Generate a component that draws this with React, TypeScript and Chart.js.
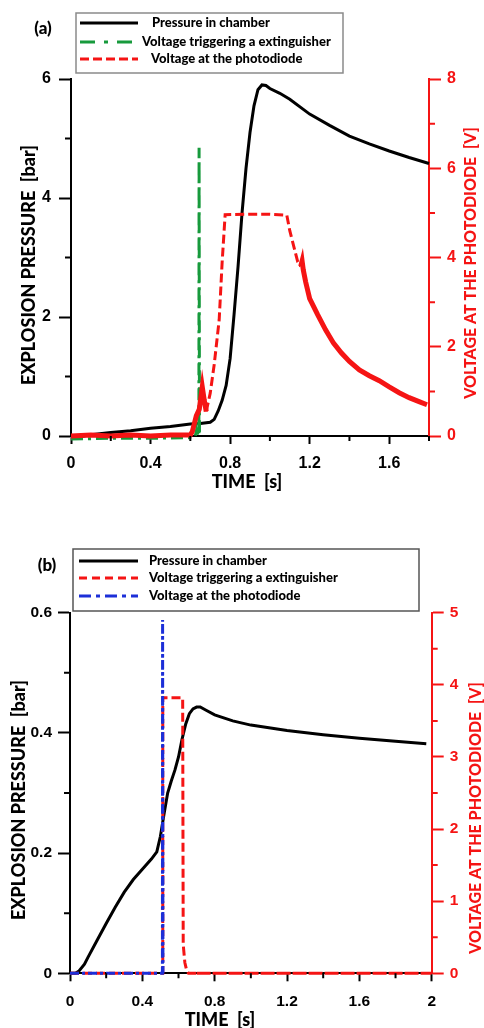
import React, { useEffect, useRef } from 'react';
import { Chart, registerables } from 'chart.js';

Chart.register(...registerables);

// ---------------- Panel (a) data ----------------
const aPressureTime = [0, 0.05, 0.1, 0.2, 0.3, 0.4, 0.5, 0.6, 0.65, 0.7, 0.72, 0.74, 0.76, 0.78, 0.8, 0.82, 0.84, 0.86, 0.88, 0.9, 0.92, 0.94, 0.96, 0.98, 1.0, 1.05, 1.1, 1.2, 1.3, 1.4, 1.5, 1.6, 1.7, 1.8];
const aPressure = [-0.02, -0.01, 0.02, 0.06, 0.09, 0.13, 0.16, 0.2, 0.21, 0.23, 0.28, 0.42, 0.6, 0.85, 1.3, 2.05, 2.85, 3.75, 4.5, 5.1, 5.55, 5.82, 5.9, 5.89, 5.84, 5.76, 5.66, 5.41, 5.22, 5.04, 4.91, 4.79, 4.68, 4.58];

const aTriggerTime = [0, 0.2, 0.4, 0.6, 0.625, 0.632, 0.638, 0.643, 0.644, 0.646];
const aTrigger = [-0.07, -0.05, -0.05, -0.04, 0.0, 0.15, 0.0, 0.0, 6.46, 0.0];

const aDiodeTime = [0, 0.1, 0.2, 0.3, 0.4, 0.5, 0.6, 0.61, 0.63, 0.645, 0.66, 0.67, 0.68, 0.7, 0.72, 0.745, 0.76, 0.775, 0.9, 1.0, 1.085, 1.1, 1.12, 1.14, 1.155, 1.162, 1.168, 1.18, 1.2, 1.24, 1.28, 1.32, 1.36, 1.4, 1.45, 1.5, 1.55, 1.6, 1.65, 1.7, 1.75, 1.79];
const aDiode = [0.0, 0.02, 0.0, 0.02, 0.0, 0.02, 0.02, 0.1, 0.45, 0.6, 1.1, 0.8, 0.55, 0.96, 1.6, 2.6, 3.9, 4.96, 4.97, 4.97, 4.95, 4.6, 4.25, 3.9, 3.8, 3.92, 3.72, 3.45, 3.08, 2.72, 2.38, 2.08, 1.86, 1.67, 1.48, 1.35, 1.24, 1.1, 0.97, 0.86, 0.77, 0.7];

const aXTicks = [0, 0.4, 0.8, 1.2, 1.6];
const aXMinor = [0.2, 0.6, 1.0, 1.4, 1.8];
const aYTicks = [0, 2, 4, 6];
const aYMinor = [1, 3, 5];
const aY2Ticks = [0, 2, 4, 6, 8];
const aY2Minor = [1, 3, 5, 7];

const aLegendLabels = ['Pressure in chamber', 'Voltage triggering a extinguisher', 'Voltage at the photodiode'];

// ---------------- Panel (b) data ----------------
const bPressureTime = [0, 0.03, 0.05, 0.08, 0.1, 0.15, 0.2, 0.25, 0.3, 0.35, 0.4, 0.45, 0.48, 0.5, 0.52, 0.54, 0.56, 0.58, 0.6, 0.62, 0.64, 0.66, 0.68, 0.7, 0.72, 0.75, 0.8, 0.9, 1.0, 1.2, 1.4, 1.6, 1.8, 1.97];
const bPressure = [0, 0, 0.004, 0.015, 0.027, 0.055, 0.083, 0.11, 0.135, 0.156, 0.173, 0.19, 0.202, 0.228, 0.265, 0.3, 0.32, 0.338, 0.36, 0.39, 0.415, 0.432, 0.44, 0.443, 0.443, 0.438, 0.43, 0.42, 0.413, 0.404, 0.397, 0.391, 0.386, 0.382];

const bTriggerTime = [0, 0.511, 0.513, 0.623, 0.626, 0.635, 0.645, 0.655, 0.7, 1.0, 1.5, 2.0];
const bTrigger = [0, 0, 3.82, 3.82, 0.4, 0.15, 0.04, 0, 0, 0, 0, 0];

const bDiodeTime = [0, 0.511, 0.512, 0.514];
const bDiode = [0, 0, 4.9, 0];

const bXTicks = [0, 0.4, 0.8, 1.2, 1.6, 2];
const bXMinor = [0.2, 0.6, 1.0, 1.4, 1.8];
const bYTicks = [0, 0.2, 0.4, 0.6];
const bYMinor = [0.1, 0.3, 0.5];
const bY2Ticks = [0, 1, 2, 3, 4, 5];
const bY2Minor = [0.5, 1.5, 2.5, 3.5, 4.5];

const bLegendLabels = ['Pressure in chamber', 'Voltage triggering a extinguisher', 'Voltage at the photodiode'];

// ---------------- styling ----------------
const RED = '#f51414';
const GREEN = '#179a3c';
const BLUE = '#1c2fd8';
const TICK_FONT = 'Liberation Sans';
const TITLE_FONT = 'Lato';
const TITLE_WEIGHT = '900';

const zip = (xs: number[], ys: number[]) => xs.map((x, i) => ({ x, y: ys[i] }));

const decorPlugin = {
  id: 'decor',
  afterDraw(chart: any, _args: any, opts: any) {
    const ctx = chart.ctx;
    const area = chart.chartArea;
    const sx = chart.scales.x;
    const sy = chart.scales.y;
    const sy2 = chart.scales.y2;
    ctx.save();
    // minor ticks
    ctx.lineWidth = 2;
    ctx.strokeStyle = '#000';
    ctx.beginPath();
    opts.xMinor.forEach((v: number) => {
      const px = sx.getPixelForValue(v);
      ctx.moveTo(px, area.bottom);
      ctx.lineTo(px, area.bottom + 5);
    });
    opts.yMinor.forEach((v: number) => {
      const py = sy.getPixelForValue(v);
      ctx.moveTo(area.left, py);
      ctx.lineTo(area.left - 6, py);
    });
    ctx.stroke();
    ctx.strokeStyle = RED;
    ctx.beginPath();
    opts.y2Minor.forEach((v: number) => {
      const py = sy2.getPixelForValue(v);
      ctx.moveTo(area.right, py);
      ctx.lineTo(area.right + 6, py);
    });
    ctx.stroke();

    // axis titles
    ctx.textAlign = 'center';
    ctx.textBaseline = 'middle';
    ctx.fillStyle = '#000';
    ctx.font = `${TITLE_WEIGHT} 18px ${TITLE_FONT}`;
    ctx.fillText('TIME  [s]', opts.xTitle[0], opts.xTitle[1]);
    ctx.save();
    ctx.translate(opts.yTitle[0], opts.yTitle[1]);
    ctx.rotate(-Math.PI / 2);
    ctx.fillText('EXPLOSION PRESSURE  [bar]', 0, 0);
    ctx.restore();
    ctx.save();
    ctx.fillStyle = RED;
    ctx.font = `${TITLE_WEIGHT} 16px ${TITLE_FONT}`;
    ctx.translate(opts.y2Title[0], opts.y2Title[1]);
    ctx.rotate(-Math.PI / 2);
    ctx.fillText('VOLTAGE AT THE PHOTODIODE  [V]', 0, 0);
    ctx.restore();

    // panel label
    ctx.fillStyle = '#000';
    ctx.font = `${TITLE_WEIGHT} 17px ${TITLE_FONT}`;
    ctx.fillText(opts.panel, opts.panelPos[0], opts.panelPos[1]);

    // legend
    const lg = opts.legend;
    ctx.fillStyle = '#fff';
    ctx.fillRect(lg.box[0], lg.box[1], lg.box[2], lg.box[3]);
    ctx.strokeStyle = lg.border;
    ctx.lineWidth = 1.5;
    ctx.strokeRect(lg.box[0], lg.box[1], lg.box[2], lg.box[3]);
    ctx.font = `${TITLE_WEIGHT} 13px ${TITLE_FONT}`;
    ctx.textAlign = 'left';
    lg.items.forEach((it: any, i: number) => {
      const y = lg.rows[i];
      ctx.strokeStyle = it.color;
      ctx.lineWidth = 3;
      ctx.setLineDash(it.dash);
      ctx.beginPath();
      ctx.moveTo(lg.sample[0], y);
      ctx.lineTo(lg.sample[1], y);
      ctx.stroke();
      ctx.setLineDash([]);
      ctx.fillStyle = '#000';
      ctx.fillText(it.label, lg.textX[i], y);
    });
    ctx.restore();
  },
};

function makeScales(cfg: any) {
  const tickFont = { family: TICK_FONT, size: cfg.tickSize, weight: 'bold' as const };
  return {
    x: {
      type: 'linear',
      min: cfg.xMin,
      max: cfg.xMax,
      afterFit: (s: any) => { s.height = cfg.xHeight; },
      afterBuildTicks: (s: any) => { s.ticks = cfg.xTicks.map((v: number) => ({ value: v })); },
      ticks: { font: tickFont, color: '#000', padding: cfg.xPad, maxRotation: 0, autoSkip: false, callback: (v: any) => String(v) },
      grid: { drawOnChartArea: false, tickLength: 8, tickColor: '#000', tickWidth: 2 },
      border: { color: '#000', width: 2 },
    },
    y: {
      type: 'linear',
      position: 'left',
      min: cfg.yMin,
      max: cfg.yMax,
      afterFit: (s: any) => { s.width = cfg.leftWidth; },
      afterBuildTicks: (s: any) => { s.ticks = cfg.yTicks.map((v: number) => ({ value: v })); },
      ticks: { font: tickFont, color: '#000', padding: cfg.yPad, autoSkip: false, callback: (v: any) => String(v) },
      grid: { drawOnChartArea: false, tickLength: 12, tickColor: '#000', tickWidth: 2 },
      border: { color: '#000', width: 2 },
    },
    y2: {
      type: 'linear',
      position: 'right',
      min: cfg.y2Min,
      max: cfg.y2Max,
      afterFit: (s: any) => { s.width = cfg.rightWidth; },
      afterBuildTicks: (s: any) => { s.ticks = cfg.y2Ticks.map((v: number) => ({ value: v })); },
      ticks: { font: tickFont, color: RED, padding: cfg.y2Pad, autoSkip: false, callback: (v: any) => String(v) },
      grid: { drawOnChartArea: false, tickLength: 12, tickColor: RED, tickWidth: 2 },
      border: { color: RED, width: 2 },
    },
  };
}

function ChartA() {
  const ref = useRef<HTMLCanvasElement>(null);
  useEffect(() => {
    const inDash = (ctx: any) => ctx.p0.parsed.x >= 0.68 && ctx.p1.parsed.x <= 1.16;
    const chart = new Chart(ref.current as HTMLCanvasElement, {
      type: 'line',
      data: {
        datasets: [
          {
            label: aLegendLabels[2],
            data: zip(aDiodeTime, aDiode),
            yAxisID: 'y2',
            borderColor: RED,
            borderWidth: 5,
            clip: 8,
            segment: {
              borderDash: (c: any) => (inDash(c) ? [9, 4] : undefined),
              borderWidth: (c: any) => (inDash(c) ? 3 : 5),
            },
          },
          {
            label: aLegendLabels[1],
            data: zip(aTriggerTime, aTrigger),
            yAxisID: 'y2',
            borderColor: GREEN,
            borderWidth: 3,
            borderDash: [12, 5, 3, 5],
            clip: 8,
          },
          {
            label: aLegendLabels[0],
            data: zip(aPressureTime, aPressure),
            yAxisID: 'y',
            borderColor: '#000',
            borderWidth: 3,
            clip: 8,
          },
        ],
      } as any,
      options: {
        animation: false,
        responsive: false,
        maintainAspectRatio: false,
        layout: { padding: { top: 79, left: 0, right: 0, bottom: 0 } },
        elements: { point: { radius: 0 }, line: { tension: 0 } },
        plugins: {
          legend: { display: false },
          tooltip: { enabled: false },
          decor: {
            xMinor: aXMinor,
            yMinor: aYMinor,
            y2Minor: aY2Minor,
            xTitle: [247, 482],
            yTitle: [29, 265],
            y2Title: [471, 263],
            panel: '(a)',
            panelPos: [43, 29],
            legend: {
              box: [76, 13, 267, 60],
              border: '#8a8a8a',
              rows: [23, 42, 59],
              sample: [80, 138],
              textX: [152, 142, 151],
              items: [
                { label: aLegendLabels[0], color: '#000', dash: [] },
                { label: aLegendLabels[1], color: GREEN, dash: [15, 9, 4, 9] },
                { label: aLegendLabels[2], color: RED, dash: [9, 4] },
              ],
            },
          },
        } as any,
        scales: makeScales({
          xMin: 0, xMax: 1.8, xTicks: aXTicks, xHeight: 74, xPad: 10,
          yMin: 0, yMax: 6, yTicks: aYTicks, leftWidth: 71, yPad: 8,
          y2Min: 0, y2Max: 8, y2Ticks: aY2Ticks, rightWidth: 55, y2Pad: 6,
          tickSize: 16,
        }) as any,
      },
      plugins: [decorPlugin],
    });
    return () => chart.destroy();
  }, []);
  return <canvas ref={ref} width={484} height={510} style={{ display: 'block', width: 484, height: 510 }} />;
}

function ChartB() {
  const ref = useRef<HTMLCanvasElement>(null);
  useEffect(() => {
    const chart = new Chart(ref.current as HTMLCanvasElement, {
      type: 'line',
      data: {
        datasets: [
          {
            label: bLegendLabels[2],
            data: zip(bDiodeTime, bDiode),
            yAxisID: 'y2',
            borderColor: BLUE,
            borderWidth: 3,
            borderDash: [9, 3, 3, 3],
            clip: 8,
          },
          {
            label: bLegendLabels[1],
            data: zip(bTriggerTime, bTrigger),
            yAxisID: 'y2',
            borderColor: RED,
            borderWidth: 3,
            clip: 8,
            segment: {
              borderDash: (c: any) => (c.p0.parsed.x >= 0.66 ? [14, 2] : [9, 4]),
            },
          },
          {
            label: bLegendLabels[0],
            data: zip(bPressureTime, bPressure),
            yAxisID: 'y',
            borderColor: '#000',
            borderWidth: 3,
            clip: 8,
          },
        ],
      } as any,
      options: {
        animation: false,
        responsive: false,
        maintainAspectRatio: false,
        layout: { padding: { top: 102.7, left: 0, right: 0, bottom: 0 } },
        elements: { point: { radius: 0 }, line: { tension: 0 } },
        plugins: {
          legend: { display: false },
          tooltip: { enabled: false },
          decor: {
            xMinor: bXMinor,
            yMinor: bYMinor,
            y2Minor: bY2Minor,
            xTitle: [220, 510],
            yTitle: [19, 290],
            y2Title: [476, 308],
            panel: '(b)',
            panelPos: [47, 56],
            legend: {
              box: [73, 39, 346, 62],
              border: '#555',
              rows: [51, 68, 86],
              sample: [79, 138],
              textX: [149, 149, 149],
              items: [
                { label: bLegendLabels[0], color: '#000', dash: [] },
                { label: bLegendLabels[1], color: RED, dash: [8, 5] },
                { label: bLegendLabels[2], color: BLUE, dash: [12, 5, 4, 5] },
              ],
            },
          },
        } as any,
        scales: makeScales({
          xMin: 0, xMax: 2, xTicks: bXTicks, xHeight: 54.7, xPad: 11,
          yMin: 0, yMax: 0.6, yTicks: bYTicks, leftWidth: 70, yPad: 6,
          y2Min: 0, y2Max: 5, y2Ticks: bY2Ticks, rightWidth: 52.3, y2Pad: 6,
          tickSize: 15.5,
        }) as any,
      },
      plugins: [decorPlugin],
    });
    return () => chart.destroy();
  }, []);
  return <canvas ref={ref} width={484} height={518} style={{ display: 'block', width: 484, height: 518 }} />;
}

export default function App() {
  return (
    <div style={{ position: 'absolute', left: 0, top: 0, width: 484, height: 1028, background: '#fff', overflow: 'hidden' }}>
      <ChartA />
      <ChartB />
    </div>
  );
}
